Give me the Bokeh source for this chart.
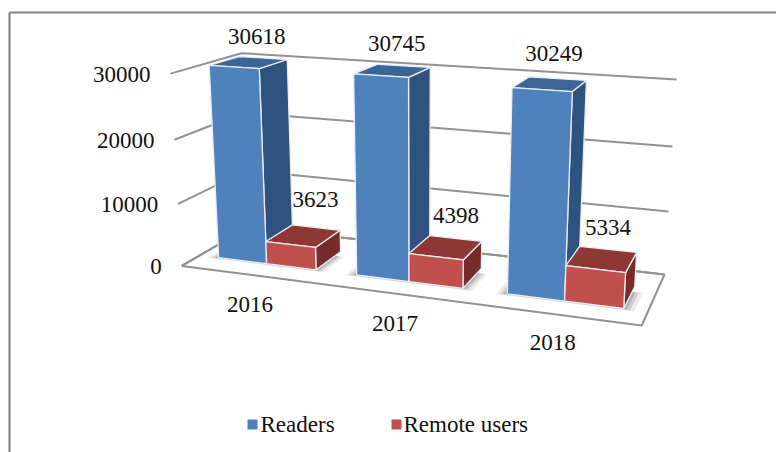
import numpy as np
from bokeh.plotting import figure
from bokeh.embed import file_html
from bokeh.resources import INLINE
from bokeh.core.properties import value

# ---- data ----
categories = ["2016", "2017", "2018"]
readers = [30618, 30745, 30249]
remote_users = [3623, 4398, 5334]
tick_values = [0, 10000, 20000, 30000]
series_names = ["Readers", "Remote users"]

# ---- style ----
FONT = value("Liberation Serif")
FS = "23px"
TXT = "#111111"
GRID = "#929292"
FACES = {
    "Readers": dict(front="#4F81BD", side="#30527E", top="#3A6596"),
    "Remote users": dict(front="#C0504D", side="#772C2A", top="#8E3735"),
}
VMAX = 30000.0

# ---- projection: (along, depth, value share) -> page pixels, fitted on the box corners ----
calib = [
    (0, 0, 0, 182, 266), (0, 0, 1/3, 177, 203), (0, 0, 2/3, 174, 139), (0, 0, 1, 170, 73),
    (0, 1, 1, 241, 53), (0, 1, 0, 248, 226),
    (1, 1, 0, 664, 274), (1, 1, 1/3, 668, 211), (1, 1, 2/3, 672, 146), (1, 1, 1, 676, 79),
    (1, 0, 0, 641, 325),
]
A, b = [], []
for U, D, Z, x, y in calib:
    A.append([U, D, Z, 1, 0, 0, 0, 0, -x*U, -x*D, -x*Z]); b.append(x)
    A.append([0, 0, 0, 0, U, D, Z, 1, -y*U, -y*D, -y*Z]); b.append(y)
h = np.linalg.lstsq(np.array(A, float), np.array(b, float), rcond=None)[0]
P = np.append(h, 1.0).reshape(3, 4)


def proj(u, d, v):
    q = P @ np.array([u, d, v / VMAX, 1.0])
    return q[0] / q[2], q[1] / q[2]


def poly(pts):
    xy = [proj(*pt) for pt in pts]
    return [c[0] for c in xy], [c[1] for c in xy]


p = figure(width=776, height=452, x_range=(0, 776), y_range=(452, 0),
           toolbar_location=None, output_backend="svg", min_border=0,
           outline_line_color=None, background_fill_color="white")
p.axis.visible = False
p.grid.visible = False

# chart frame
p.line([9, 9], [452, 12], line_color="#858585", line_width=2.2)
p.line([9, 776], [12, 12], line_color="#858585", line_width=2.2)

# floor
fx, fy = poly([(0, 0, 0), (1, 0, 0), (1, 1, 0), (0, 1, 0), (0, 0, 0)])
p.line(fx, fy, line_color=GRID, line_width=2)
# gridlines: along left side then along the back
for t in tick_values:
    lx, ly = poly([(0, 0, t), (0, 1, t), (1, 1, t)])
    p.line(lx, ly, line_color=GRID, line_width=2)

# tick labels
for t in tick_values:
    x, y = proj(0, 0, t)
    p.text([x - 20], [y + 1], text=[str(t)], text_font=FONT, text_font_size=FS, text_color=TXT,
           text_align="right", text_baseline="middle")

# bars
GAP = 0.8
bar_w = 1 / (3 * (2 + GAP))
D0, D1 = 0.25, 0.68
label_off = [[(8, -26), (12, -36)], [(4, -27), (10, -32)], [(4, -30), (6, -31)]]
cat_off = [(0, 30), (-1, 30), (-3, 28)]

for i, cat in enumerate(categories):
    u0 = (i + (GAP / 2) * bar_w * 3) / 3
    # contact shadow on the floor
    end = u0 + 2 * bar_w
    for e, a in [(0.022, 0.10), (0.014, 0.16), (0.007, 0.22)]:
        sx, sy = poly([(u0 - e, D0 - e * 1.4, 0), (end + e, D0 - e * 1.4, 0),
                       (end + e, D1 - 0.1, 0), (u0 - e, D1 - 0.1, 0)])
        p.patch(sx, sy, fill_color="#444444", fill_alpha=a, line_color=None)

    for j, (name, vals) in enumerate(zip(series_names, [readers, remote_users])):
        v = vals[i]
        a, c = u0 + j * bar_w, u0 + (j + 1) * bar_w
        f = FACES[name]
        edge = dict(line_color="#E9EEF4", line_width=1.3)
        x, y = poly([(c, D0, 0), (c, D1, 0), (c, D1, v), (c, D0, v)])
        p.patch(x, y, fill_color=f["side"], **edge)
        x, y = poly([(a, D0, v), (c, D0, v), (c, D1, v), (a, D1, v)])
        p.patch(x, y, fill_color=f["top"], **edge)
        x, y = poly([(a, D0, 0), (c, D0, 0), (c, D0, v), (a, D0, v)])
        p.patch(x, y, fill_color=f["front"], **edge)
        # value label above the top of the bar
        lx, ly = proj((a + c) / 2, (D0 + D1) / 2, v)
        ox, oy = label_off[i][j]
        p.text([lx + ox], [ly + oy], text=[str(v)], text_font=FONT, text_font_size=FS, text_color=TXT,
               text_align="center", text_baseline="middle")

    cx, cy = proj((i + 0.5) / 3, 0, 0)
    p.text([cx + cat_off[i][0]], [cy + cat_off[i][1]], text=[cat], text_font=FONT, text_font_size=FS,
           text_color=TXT, text_align="center", text_baseline="middle")

# legend
for name, x0, tx in zip(series_names, [247, 391], [260, 403]):
    p.quad(left=[x0], right=[x0 + 10], top=[419], bottom=[429], fill_color=FACES[name]["front"], line_color=None)
    p.text([tx], [424], text=[name], text_font=FONT, text_font_size=FS, text_color=TXT,
           text_align="left", text_baseline="middle")

open("out.html", "w").write(file_html(p, INLINE))
